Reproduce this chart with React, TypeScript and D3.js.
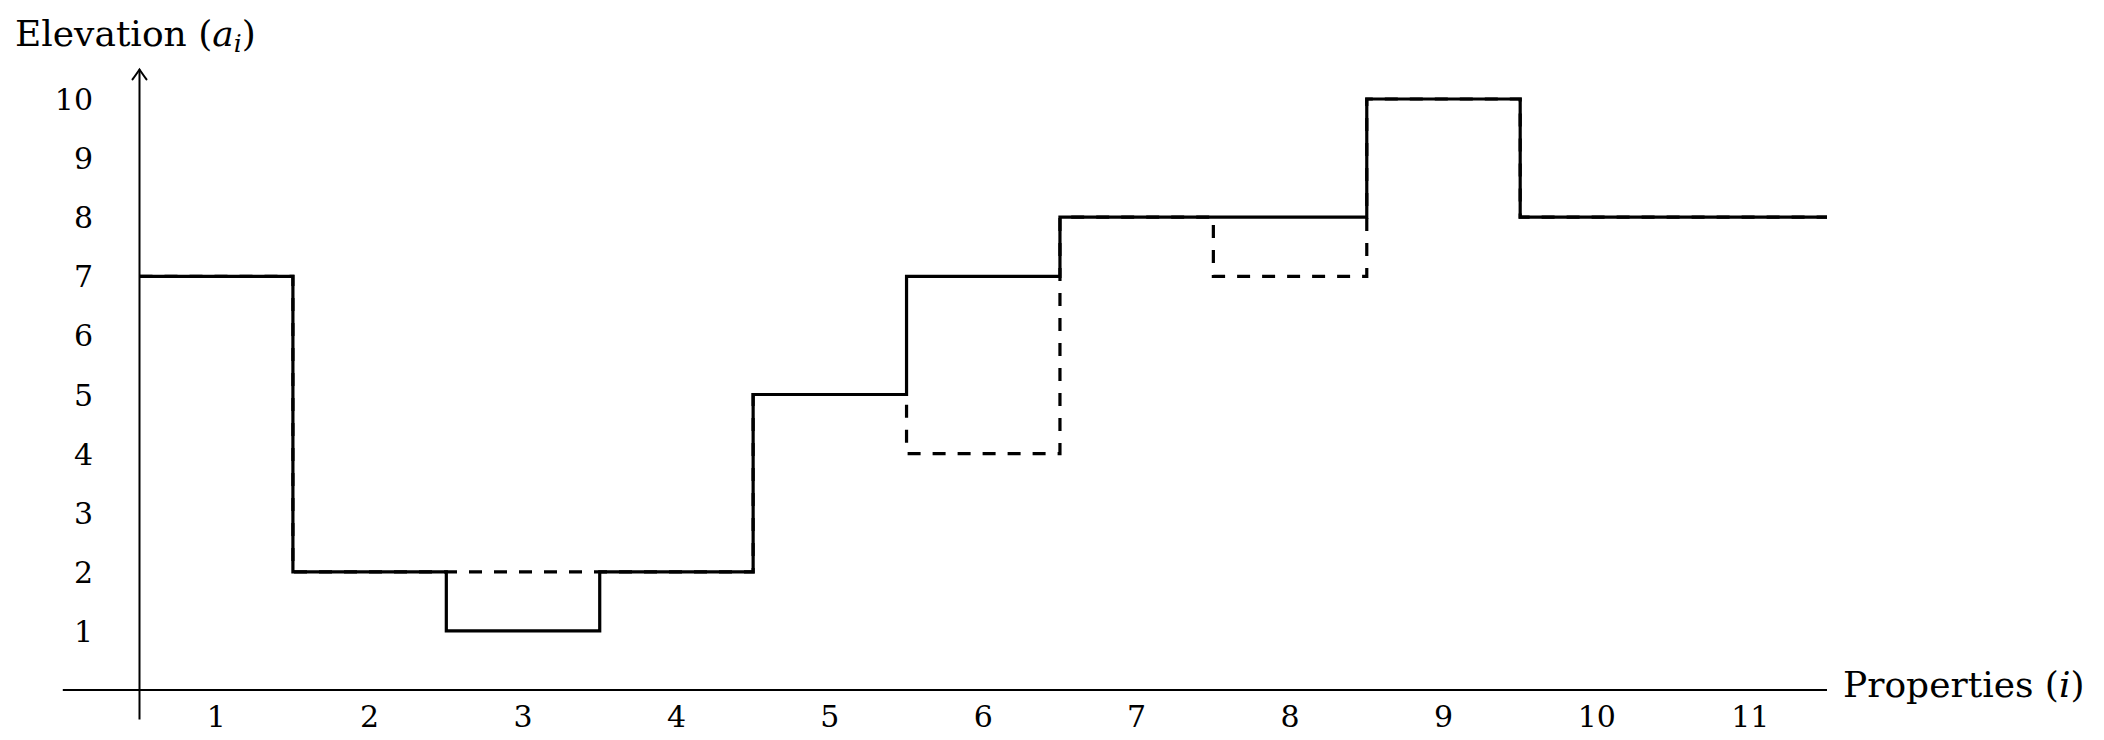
import React from "react";
import * as d3 from "d3";

const properties = [1, 2, 3, 4, 5, 6, 7, 8, 9, 10, 11];
const finalElevation = [7, 2, 1, 2, 5, 7, 8, 8, 10, 8, 8];
const initialElevation = [7, 2, 2, 2, 5, 4, 8, 7, 10, 8, 8];
const yTicks = [1, 2, 3, 4, 5, 6, 7, 8, 9, 10];

const W = 2104;
const H = 740;

const x = d3.scaleLinear().domain([0.5, 11.5]).range([139.5, 1827]);
const y = d3.scaleLinear().domain([0, 10]).range([690, 99]);

function stepPoints(vals: number[]): [number, number][] {
  const pts: [number, number][] = [[0.5, vals[0]]];
  properties.forEach((p, i) => pts.push([p, vals[i]]));
  pts.push([11.5, vals[vals.length - 1]]);
  return pts;
}

const line = d3
  .line<[number, number]>()
  .x((d) => x(d[0]))
  .y((d) => y(d[1]))
  .curve(d3.curveStep);

const FONT = "'DejaVu Serif', 'Liberation Serif', serif";

export default function App() {
  const axisX = x(0.5);
  const arrowTop = y(10.5);
  return (
    <svg
      width={W}
      height={H}
      style={{ position: "absolute", left: 0, top: 0, background: "#fff" }}
      fontFamily={FONT}
    >
      <rect width={W} height={H} fill="#fff" />
      {/* x axis */}
      <line x1={x(0)} x2={x(11.5)} y1={y(0)} y2={y(0)} stroke="#000" strokeWidth={2} />
      {/* y axis */}
      <line x1={axisX} x2={axisX} y1={y(-0.5)} y2={arrowTop} stroke="#000" strokeWidth={2} />
      <path
        d={`M${axisX - 7},${arrowTop + 10} Q${axisX - 2},${arrowTop + 3} ${axisX},${arrowTop} Q${axisX + 2},${arrowTop + 3} ${axisX + 7},${arrowTop + 10}`}
        fill="none"
        stroke="#000"
        strokeWidth={2}
        strokeLinecap="round"
      />
      {/* y tick labels */}
      {yTicks.map((t) => (
        <text key={t} x={93} y={y(t) + 11} textAnchor="end" fontSize={30}>
          {t}
        </text>
      ))}
      {/* x tick labels */}
      {properties.map((p) => (
        <text key={p} x={x(p)} y={727} textAnchor="middle" fontSize={30}>
          {p}
        </text>
      ))}
      {/* dashed initial elevation */}
      <path
        d={line(stepPoints(initialElevation)) || ""}
        fill="none"
        stroke="#000"
        strokeWidth={3.2}
        strokeDasharray="13,12"
      />
      {/* solid final elevation */}
      <path
        d={line(stepPoints(finalElevation)) || ""}
        fill="none"
        stroke="#000"
        strokeWidth={3.2}
      />
      {/* axis labels */}
      <text x={15} y={46} fontSize={36}>
        Elevation (
        <tspan fontStyle="italic">a</tspan>
        <tspan fontStyle="italic" fontSize={25} dy={6}>
          i
        </tspan>
        <tspan dy={-6}>)</tspan>
      </text>
      <text x={1843} y={697} fontSize={36}>
        Properties (<tspan fontStyle="italic">i</tspan>)
      </text>
    </svg>
  );
}
